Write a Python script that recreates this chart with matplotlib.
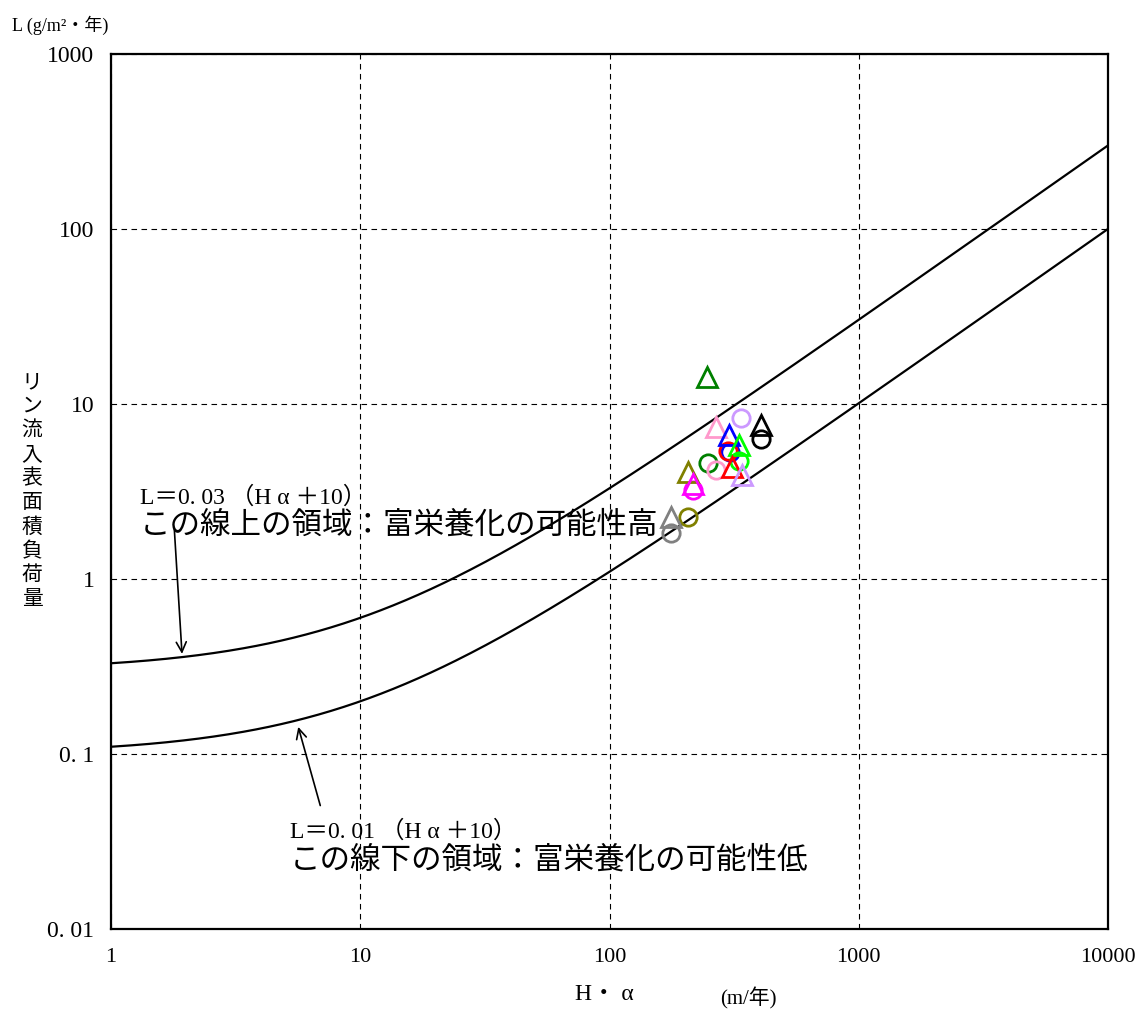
import numpy as np
import matplotlib
matplotlib.use("Agg")
import matplotlib.pyplot as plt

plt.rcParams['font.family'] = ['Liberation Serif', 'Noto Sans CJK JP', 'DejaVu Sans']

# Data
tri_x = [246, 267, 404, 302, 332, 309, 339, 206, 217, 176]
tri_y = [14.3, 7.4, 7.6, 6.65, 5.85, 4.35, 3.95, 4.1, 3.5, 2.27]
tri_c = ['#008000', '#FF99CC', '#000000', '#0000FF', '#00FF00', '#FF0000',
         '#CC99FF', '#808000', '#FF00FF', '#808080']
cir_x = [336, 404, 304, 300, 332, 248, 267, 217, 176, 206]
cir_y = [8.3, 6.3, 5.35, 5.4, 4.7, 4.6, 4.2, 3.22, 1.82, 2.27]
cir_c = ['#CC99FF', '#000000', '#0000FF', '#FF0000', '#00FF00', '#008000',
         '#FF99CC', '#FF00FF', '#808080', '#808000']

coef = [0.03, 0.01]
offset = 10
x_ticks = [1, 10, 100, 1000, 10000]
x_ticklabels = ['1', '10', '100', '1000', '10000']
y_ticks = [0.01, 0.1, 1, 10, 100, 1000]
y_ticklabels = ['0. 01', '0. 1', '1', '10', '100', '1000']

W, H = 1142, 1011
fig = plt.figure(figsize=(W / 100, H / 100), dpi=100)
ax = fig.add_axes([111 / W, (H - 929) / H, 997 / W, 875 / H])

hx = np.logspace(0, 4, 400)
for c in coef:
    ax.plot(hx, c * (hx + offset), color='black', lw=1.6, zorder=3)

ax.set_xscale('log')
ax.set_yscale('log')
ax.set_xlim(1, 10000)
ax.set_ylim(0.01, 1000)
ax.set_xticks(x_ticks)
ax.set_xticklabels(x_ticklabels, fontsize=16)
ax.set_yticks(y_ticks)
ax.set_yticklabels(y_ticklabels, fontsize=17)
ax.minorticks_off()
ax.tick_params(axis='y', length=0, pad=12)
ax.tick_params(axis='x', length=0, pad=14)
for s in ax.spines.values():
    s.set_linewidth(1.6)
ax.grid(True, which='major', color='black', ls=(0, (5, 4)), lw=0.8)

for x, y, c in zip(cir_x, cir_y, cir_c):
    ax.plot([x], [y], marker='o', ms=12.5, mfc='none', mec=c, mew=2.0, ls='none', zorder=4)
for x, y, c in zip(tri_x, tri_y, tri_c):
    ax.plot([x], [y], marker='^', ms=14, mfc='none', mec=c, mew=2.0, ls='none', zorder=5)

ax.annotate('', xy=(1.93, 0.36), xytext=(1.79, 2.05),
            arrowprops=dict(arrowstyle='->', lw=1.2, color='black', mutation_scale=18))
ax.annotate('', xy=(5.6, 0.148), xytext=(6.96, 0.049),
            arrowprops=dict(arrowstyle='->', lw=1.2, color='black', mutation_scale=18))

def ft(x, y, s, **kw):
    fig.text(x / W, 1 - y / H, s, **kw)

ft(140, 497, 'L＝0. 03 （H α ＋10）', fontsize=17, va='center', ha='left')
ft(140, 526, 'この線上の領域：富栄養化の可能性高', fontsize=22, va='center', ha='left')
ft(290, 831, 'L＝0. 01 （H α ＋10）', fontsize=17, va='center', ha='left')
ft(290, 861, 'この線下の領域：富栄養化の可能性低', fontsize=22, va='center', ha='left')

ft(12, 25, 'L (g/m²・年)', fontsize=13, va='center', ha='left')
ft(32, 492, '\n'.join('リン流入表面積負荷量'), fontsize=15, va='center', ha='center',
   linespacing=1.35)
ft(604, 995, 'H・ α', fontsize=17, va='center', ha='center')
ft(748, 998, '(m/年)', fontsize=15, va='center', ha='center')

fig.savefig('out.png', dpi=100)
